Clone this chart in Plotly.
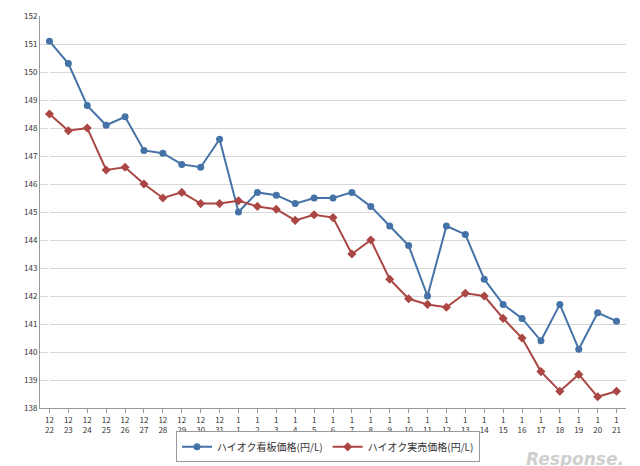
import plotly.graph_objects as go

months = ["12"]*10 + ["1"]*21
days = [str(d) for d in range(22, 32)] + [str(d) for d in range(1, 22)]
signboard = [151.1,150.3,148.8,148.1,148.4,147.2,147.1,146.7,146.6,147.6,
             145.0,145.7,145.6,145.3,145.5,145.5,145.7,145.2,144.5,143.8,
             142.0,144.5,144.2,142.6,141.7,141.2,140.4,141.7,140.1,141.4,141.1]
actual = [148.5,147.9,148.0,146.5,146.6,146.0,145.5,145.7,145.3,145.3,
          145.4,145.2,145.1,144.7,144.9,144.8,143.5,144.0,142.6,141.9,
          141.7,141.6,142.1,142.0,141.2,140.5,139.3,138.6,139.2,138.4,138.6]

x = list(range(len(days)))
ticktext = [f"{m}<br>{d}" for m, d in zip(months, days)]

fig = go.Figure()
fig.add_trace(go.Scatter(x=x, y=signboard, mode="lines+markers", name="ハイオク看板価格(円/L)",
                         line=dict(color="#4572A7", width=2), marker=dict(symbol="circle", size=7)))
fig.add_trace(go.Scatter(x=x, y=actual, mode="lines+markers", name="ハイオク実売価格(円/L)",
                         line=dict(color="#AA4643", width=2), marker=dict(symbol="diamond", size=7)))
fig.update_layout(
    width=640, height=466, margin=dict(l=32, r=22, t=8, b=66, autoexpand=False),
    paper_bgcolor="white", plot_bgcolor="white",
    font=dict(family="Noto Sans CJK JP, DejaVu Sans", size=8, color="#333"),
    xaxis=dict(range=[-0.5, 30.5], tickvals=x, ticktext=ticktext, showgrid=False,
               showline=True, linecolor="#999", ticks="outside", ticklen=4, tickcolor="#999"),
    yaxis=dict(range=[138, 152], dtick=1, showgrid=True, gridcolor="#d8d8d8",
               showline=True, linecolor="#999", zeroline=False),
    legend=dict(orientation="h", x=0.5, xanchor="center", xref="container",
                y=0.025, yanchor="bottom", yref="container",
                bordercolor="#999", borderwidth=1, font=dict(size=10)),
    showlegend=True,
)
fig.add_annotation(text="<i><b>Response.</b></i>", xref="paper", yref="paper", x=1.0, y=-0.1,
                   xanchor="right", yanchor="top", showarrow=False,
                   font=dict(size=17, color="#cfcfcf", family="DejaVu Sans"))
fig.write_html("out.html")
